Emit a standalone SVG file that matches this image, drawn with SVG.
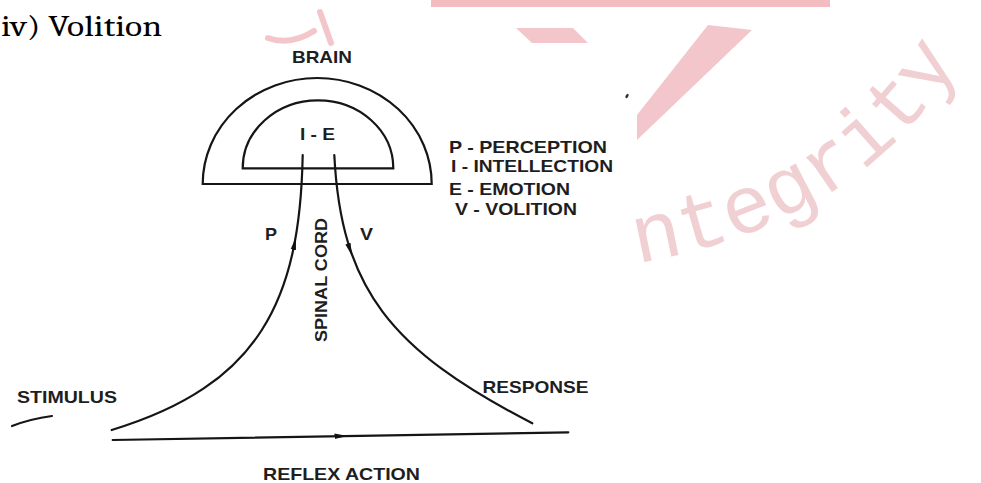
<svg xmlns="http://www.w3.org/2000/svg" width="981" height="483" viewBox="0 0 981 483">
<defs>
<style>
.lbl{font-family:"Liberation Sans",Arial,sans-serif;font-weight:bold;font-size:17px;fill:#1e1e1e}
.ln{fill:none;stroke:#151515;stroke-width:2.2;stroke-linecap:round}
.wm{fill:#f2c6ca}
.wmt{font-family:"Liberation Mono","Courier New",monospace;font-size:82px;fill:#f0d0d3}
</style>
<marker id="ah" viewBox="0 0 13 7" refX="6.5" refY="3.5" markerWidth="13" markerHeight="7" markerUnits="userSpaceOnUse" orient="auto">
<path d="M0,0.8 L13,3.5 L0,6.2 Z" fill="#111"/>
</marker>
<path id="wmpath" d="M 637 263 Q 878 222 972 36"/>
</defs>
<rect width="981" height="483" fill="#ffffff"/>
<g id="watermark">
<rect x="431" y="0" width="399" height="7" fill="#f3bcc1"/>
<polygon class="wm" points="516,28 573,28 588,43 532,43"/>
<polygon class="wm" points="708,25 752,30 637,140 637,115"/>
<path d="M320 12 L331 43 M268 38 Q290 46 314 31" fill="none" stroke="#f2c6ca" stroke-width="6" stroke-linecap="round"/>
<text class="wmt"><textPath href="#wmpath">ntegrity</textPath></text>
</g>
<text x="1" y="36" font-family="Cambria,'Liberation Serif',serif" font-size="29" fill="#000" textLength="161" lengthAdjust="spacingAndGlyphs">iv) Volition</text>
<g id="brain">
<path class="ln" d="M202.7 184 A114.5 106 0 0 1 431.7 184 Z"/>
<path class="ln" d="M242.7 168.3 A75.3 68 0 0 1 393.3 168.3 Z"/>
<text class="lbl" x="292" y="63" textLength="60" lengthAdjust="spacingAndGlyphs">BRAIN</text>
<text class="lbl" x="300" y="140" textLength="35" lengthAdjust="spacingAndGlyphs">I - E</text>
</g>
<g id="legend">
<text class="lbl" x="449" y="153" textLength="158" lengthAdjust="spacingAndGlyphs">P - PERCEPTION</text>
<text class="lbl" x="451" y="172" textLength="162" lengthAdjust="spacingAndGlyphs">I - INTELLECTION</text>
<text class="lbl" x="449" y="195" textLength="121" lengthAdjust="spacingAndGlyphs">E - EMOTION</text>
<text class="lbl" x="455" y="215" textLength="122" lengthAdjust="spacingAndGlyphs">V - VOLITION</text>
<ellipse cx="627" cy="96" rx="1.3" ry="2.4" transform="rotate(30 627 96)" fill="#333"/>
</g>
<g id="spinal-cord">
<text class="lbl" x="265" y="240" textLength="12" lengthAdjust="spacingAndGlyphs">P</text>
<text class="lbl" x="360" y="240" textLength="13" lengthAdjust="spacingAndGlyphs">V</text>
<text class="lbl" transform="translate(327 342) rotate(-90)" x="0" y="0" textLength="124" lengthAdjust="spacingAndGlyphs">SPINAL CORD</text>
</g>
<g id="stimulus">
<text class="lbl" x="17" y="402.5" textLength="100" lengthAdjust="spacingAndGlyphs">STIMULUS</text>
</g>
<g id="response">
<text class="lbl" x="482.5" y="392.5" textLength="106" lengthAdjust="spacingAndGlyphs">RESPONSE</text>
</g>
<g id="reflex">
<text class="lbl" x="263" y="479.5" textLength="157" lengthAdjust="spacingAndGlyphs">REFLEX ACTION</text>
</g>
<g id="connectors">
<path class="ln" d="M12 426 Q30 419 52 416"/>
<path class="ln" d="M302.7 155 C300 300 260 385 111.7 430"/>
<path d="M293.6 248.5 L294.6 243.5" stroke="none" fill="none" marker-end="url(#ah)"/>
<path class="ln" d="M334.3 155 C341 288 390 350 532.3 423.3"/>
<path d="M348.4 244.9 L350 249.7" stroke="none" fill="none" marker-end="url(#ah)"/>
<path class="ln" d="M112.7 440 L568.3 432.3"/>
<path d="M335 436.3 L341 436.2" stroke="none" fill="none" marker-end="url(#ah)"/>
</g>
</svg>
